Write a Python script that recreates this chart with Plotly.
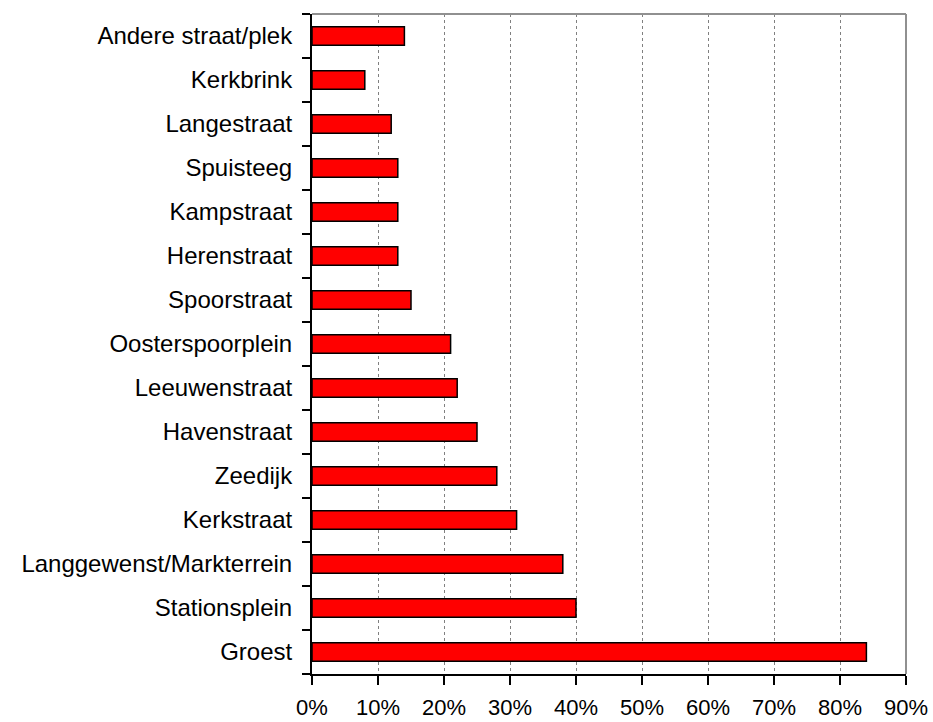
import plotly.graph_objects as go

categories = ["Groest", "Stationsplein", "Langgewenst/Markterrein", "Kerkstraat", "Zeedijk",
              "Havenstraat", "Leeuwenstraat", "Oosterspoorplein", "Spoorstraat", "Herenstraat",
              "Kampstraat", "Spuisteeg", "Langestraat", "Kerkbrink", "Andere straat/plek"]
values = [0.84, 0.40, 0.38, 0.31, 0.28, 0.25, 0.22, 0.21, 0.15, 0.13, 0.13, 0.13, 0.12, 0.08, 0.14]
x_ticks = [0, 0.1, 0.2, 0.3, 0.4, 0.5, 0.6, 0.7, 0.8, 0.9]

fig = go.Figure(go.Bar(
    y=categories, x=values, orientation="h",
    marker=dict(color="#FF0000", line=dict(color="#000000", width=1.5)),
    width=0.42,
))

font = dict(family="Liberation Sans, Arial, sans-serif", size=22, color="#000000")

fig.update_layout(
    width=933, height=722,
    margin=dict(l=312, r=27, t=14, b=48, autoexpand=False),
    paper_bgcolor="white", plot_bgcolor="white",
    showlegend=False,
    font=font,
)
fig.update_xaxes(
    range=[0, 0.9], tickvals=x_ticks, tickformat=".0%",
    showgrid=True, gridcolor="#808080", gridwidth=1, griddash="dot",
    showline=True, linecolor="#000000", linewidth=2,
    ticks="outside", ticklen=9, tickwidth=2, tickcolor="#000000",
    ticklabelstandoff=4,
    tickfont=dict(size=22), zeroline=False, automargin=False,
)
fig.update_yaxes(
    categoryorder="array", categoryarray=categories,
    showline=True, linecolor="#000000", linewidth=2,
    ticks="outside", ticklen=8, tickwidth=2, tickcolor="#000000",
    tickson="boundaries", ticklabelstandoff=13, automargin=False,
    tickfont=dict(size=24), showgrid=False,
)
# top and right frame lines in gray
fig.add_shape(type="line", xref="x domain", yref="y domain", x0=0, x1=1, y0=1, y1=1,
              line=dict(color="#909090", width=2))
fig.add_shape(type="line", xref="x domain", yref="y domain", x0=1, x1=1, y0=0, y1=1,
              line=dict(color="#909090", width=2))

fig.write_html("out.html", config={"displayModeBar": False},
               post_script="document.body.style.margin='0';document.body.style.overflow='hidden';")
